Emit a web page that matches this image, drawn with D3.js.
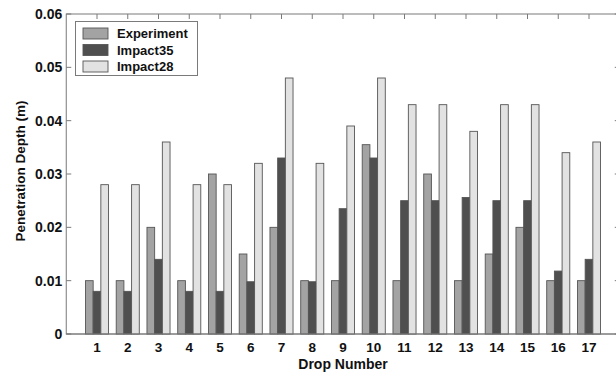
<!DOCTYPE html>
<html><head><meta charset="utf-8">
<script src="https://cdn.jsdelivr.net/npm/d3@7"></script>
<style>body{margin:0;background:#fff;}svg{display:block;font-family:"Liberation Sans",Arial,sans-serif;}</style>
</head><body><svg id="c" width="616" height="379"></svg>
<script>
const drops = [1,2,3,4,5,6,7,8,9,10,11,12,13,14,15,16,17];
const experiment = [0.010,0.010,0.020,0.010,0.030,0.015,0.020,0.010,0.010,0.0355,0.010,0.030,0.010,0.015,0.020,0.010,0.010];
const impact35 = [0.008,0.008,0.014,0.008,0.008,0.0098,0.033,0.0098,0.0235,0.033,0.025,0.025,0.0256,0.025,0.025,0.0118,0.014];
const impact28 = [0.028,0.028,0.036,0.028,0.028,0.032,0.048,0.032,0.039,0.048,0.043,0.043,0.038,0.043,0.043,0.034,0.036];
const seriesNames = ["Experiment","Impact35","Impact28"];
const yTicks = [0,0.01,0.02,0.03,0.04,0.05,0.06];
const colors = ["#a3a3a3","#4f4f4f","#e2e2e2"];

const svg = d3.select("#c");
const L=66.25, R=619.75, T=14, B=334;
const x = d3.scaleLinear().domain([0,18]).range([L,R]);
const y = d3.scaleLinear().domain([0,0.06]).range([B,T]);
const bw = 0.25;
const series = [experiment, impact35, impact28];
const axisCol="#7a7a7a";

svg.append("rect").attr("x",L).attr("y",T).attr("width",R-L).attr("height",B-T)
  .attr("fill","none").attr("stroke",axisCol).attr("stroke-width",1);

const tk=5;
svg.append("g").selectAll("line").data(yTicks).join("line")
  .attr("x1",L).attr("x2",L+tk).attr("y1",d=>y(d)).attr("y2",d=>y(d)).attr("stroke",axisCol);
svg.append("g").selectAll("line").data(yTicks).join("line")
  .attr("x1",R).attr("x2",R-tk).attr("y1",d=>y(d)).attr("y2",d=>y(d)).attr("stroke",axisCol);
svg.append("g").selectAll("line").data(drops).join("line")
  .attr("x1",d=>x(d)).attr("x2",d=>x(d)).attr("y1",T).attr("y2",T+tk).attr("stroke",axisCol);
svg.append("g").selectAll("line").data(drops).join("line")
  .attr("x1",d=>x(d)).attr("x2",d=>x(d)).attr("y1",B).attr("y2",B-tk).attr("stroke",axisCol);

series.forEach((s,si)=>{
  svg.append("g").selectAll("rect").data(s).join("rect")
    .attr("x",(d,i)=>x(drops[i]+(si-1.5)*bw))
    .attr("width",x(bw)-x(0))
    .attr("y",d=>y(d)).attr("height",d=>y(0)-y(d))
    .attr("fill",colors[si]).attr("stroke","#555").attr("stroke-width",0.9);
});

svg.append("line").attr("x1",L).attr("x2",R).attr("y1",B).attr("y2",B).attr("stroke",axisCol);

svg.append("g").selectAll("text").data(yTicks).join("text")
  .attr("x",L-4).attr("y",d=>y(d)+5).attr("text-anchor","end")
  .attr("font-size","14px").attr("font-weight","bold").attr("fill","#111")
  .text(d=>d===0?"0":d.toFixed(2));
svg.append("g").selectAll("text").data(drops).join("text")
  .attr("x",d=>x(d)).attr("y",352).attr("text-anchor","middle")
  .attr("font-size","13.5px").attr("font-weight","bold").attr("fill","#111").text(d=>d);

svg.append("text").attr("x",(L+R)/2).attr("y",369).attr("text-anchor","middle")
  .attr("font-size","14px").attr("font-weight","bold").attr("fill","#111").text("Drop Number");
svg.append("text").attr("transform",`translate(25,171) rotate(-90)`).attr("text-anchor","middle")
  .attr("font-size","13.5px").attr("font-weight","bold").attr("fill","#111").text("Penetration Depth (m)");

const lg = svg.append("g");
lg.append("rect").attr("x",75.5).attr("y",21.5).attr("width",122).attr("height",54)
  .attr("fill","#fff").attr("stroke",axisCol);
seriesNames.forEach((n,i)=>{
  lg.append("rect").attr("x",83).attr("y",28+i*16.5).attr("width",25).attr("height",11)
    .attr("fill",colors[i]).attr("stroke","#555").attr("stroke-width",0.9);
  lg.append("text").attr("x",117).attr("y",38+i*16.5).attr("font-size","13px").attr("font-weight","bold")
    .attr("fill","#111").text(n);
});
</script></body></html>
